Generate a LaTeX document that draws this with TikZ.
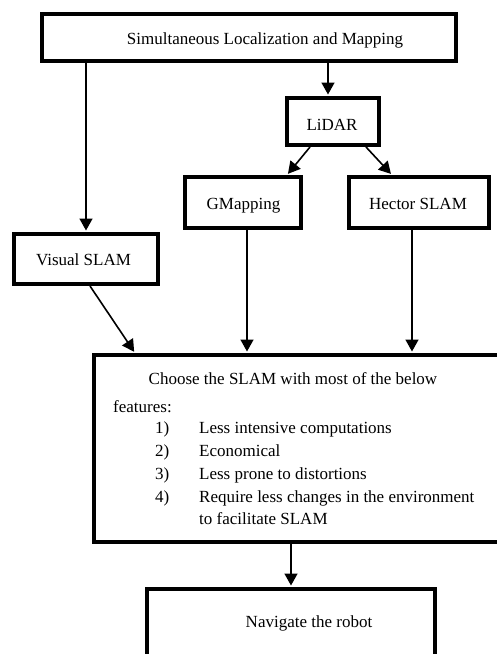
\documentclass[tikz,border=0pt]{standalone}
\usepackage{fontspec}
\setmainfont{Liberation Serif}
\usetikzlibrary{arrows.meta}
\begin{document}
\begin{tikzpicture}[x=1pt,y=-1pt,
 box/.style={draw, line width=4pt, rectangle, inner sep=0pt, fill=white},
 txt/.style={inner sep=0pt, font=\fontsize{17}{23}\selectfont, text height=11.5pt, text depth=3.5pt},
 arr/.style={line width=1.6pt, shorten >=1.5pt, -{Triangle[length=12pt,width=13pt]}}]
\useasboundingbox (0,0) rectangle (496,654);
% boxes
\node[box, minimum width=414pt, minimum height=47pt] (top) at (249,37.5) {};
\node[box, minimum width=92pt, minimum height=47pt] (lidar) at (333,121.5) {};
\node[box, minimum width=116pt, minimum height=51pt] (gmap) at (243,202.5) {};
\node[box, minimum width=140pt, minimum height=51pt] (hector) at (419,202.5) {};
\node[box, minimum width=144pt, minimum height=50pt] (visual) at (86,259) {};
\node[box, minimum width=406pt, minimum height=187pt] (big) at (297,448.5) {};
\node[box, minimum width=288pt, minimum height=81pt] (nav) at (291,629.5) {};
% texts
\node[txt] (ttop) at (265,40) {Simultaneous Localization and Mapping};
\node[txt] (tlidar) at (332,126) {LiDAR};
\node[txt] (tgmap) at (243.5,205) {GMapping};
\node[txt] (thector) at (418,205) {Hector SLAM};
\node[txt] (tvisual) at (83.5,261) {Visual SLAM};
\node[txt] (choose) at (293,380) {Choose the SLAM with most of the below};
\node[txt, anchor=west] (feat) at (113,408) {features:};
\node[txt, anchor=west] (n1) at (155,429) {1)};
\node[txt, anchor=west] (i1) at (199,429) {Less intensive computations};
\node[txt, anchor=west] (n2) at (155,452) {2)};
\node[txt, anchor=west] (i2) at (199,452) {Economical};
\node[txt, anchor=west] (n3) at (155,475) {3)};
\node[txt, anchor=west] (i3) at (199,475) {Less prone to distortions};
\node[txt, anchor=west] (n4) at (155,498) {4)};
\node[txt, anchor=west] (i4) at (199,498) {Require less changes in the environment};
\node[txt, anchor=west] (i5) at (199,520) {to facilitate SLAM};
\node[txt] (tnav) at (309,623) {Navigate the robot};
% connectors
\draw[arr] ([xshift=-5pt]lidar.north |- top.south) -- ([xshift=-5pt]lidar.north);
\draw[arr] (top.south -| visual.north) -- (visual.north);
\draw[arr] ([xshift=-23pt]lidar.south) -- ([xshift=44pt]gmap.north);
\draw[arr] ([xshift=33pt]lidar.south) -- ([xshift=-27pt]hector.north);
\draw[arr] ([xshift=4pt]visual.south) -- ([xshift=43pt]big.north west);
\draw[arr] ([xshift=4pt]gmap.south) -- ([xshift=4pt]gmap.south |- big.north);
\draw[arr] ([xshift=-7pt]hector.south) -- ([xshift=-7pt]hector.south |- big.north);
\draw[arr] (big.south -| nav.north) -- (nav.north);
\end{tikzpicture}
\end{document}
